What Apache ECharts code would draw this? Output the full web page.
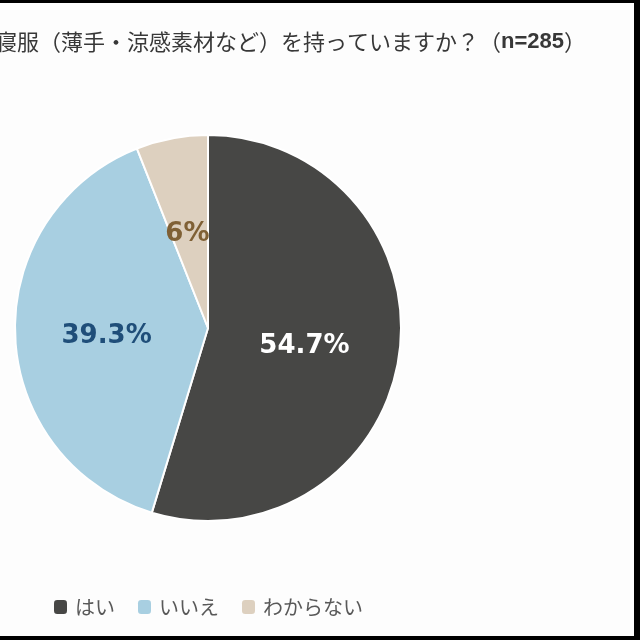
<!DOCTYPE html>
<html><head><meta charset="utf-8">
<script src="https://cdn.jsdelivr.net/npm/echarts@6/dist/echarts.min.js"></script>
<style>
html,body{margin:0;padding:0;width:640px;height:640px;background:#000;overflow:hidden}
#c{position:absolute;left:0;top:3px;width:634px;height:633px;background:#fdfdfd}
</style></head>
<body><div id="c"></div>
<script>
const categories = ['はい', 'いいえ', 'わからない'];
const values = [54.7, 39.3, 6];
const sliceColors = ['#474745', '#a8cfe1', '#ddd0bf'];
const labelColors = ['#ffffff', '#1f4e79', '#7f6035'];
const titleMain = '寝服（薄手・涼感素材など）を持っていますか？（';
const titleN = 'n=285';
const titleEnd = '）';

const chart = echarts.init(document.getElementById('c'));
chart.setOption({
  animation: false,
  backgroundColor: '#fdfdfd',
  title: {
    text: '{a|' + titleMain + '}{b|' + titleN + '}{a|' + titleEnd + '}',
    left: -10, top: 23,
    textStyle: {
      fontWeight: 'normal',
      rich: {
        a: {fontFamily: 'Noto Sans CJK JP', fontSize: 22, fontWeight: 'normal', color: '#383838'},
        b: {fontFamily: 'Liberation Sans', fontSize: 22, fontWeight: 'bold', color: '#383838'}
      }
    }
  },
  legend: {
    left: 49, top: 589,
    itemWidth: 13, itemHeight: 14, itemGap: 23,
    icon: 'roundRect',
    itemStyle: {borderWidth: 0},
    textStyle: {fontFamily: 'Noto Sans CJK JP', fontSize: 20, color: '#595959', padding: [0, 0, 0, 3]},
    data: categories
  },
  series: [{
    type: 'pie',
    center: [208, 325],
    radius: [0, 193],
    startAngle: 90,
    clockwise: true,
    label: {
      show: true, position: 'inside',
      fontFamily: 'DejaVu Sans', fontWeight: 'bold', fontSize: 26,
      offset: [-2, 4],
      formatter: p => p.value + '%'
    },
    labelLine: {show: false},
    itemStyle: {borderColor: '#ffffff', borderWidth: 2},
    data: categories.map((n, i) => ({
      name: n, value: values[i],
      itemStyle: {color: sliceColors[i]},
      label: {color: labelColors[i]}
    }))
  }]
});
</script></body></html>
